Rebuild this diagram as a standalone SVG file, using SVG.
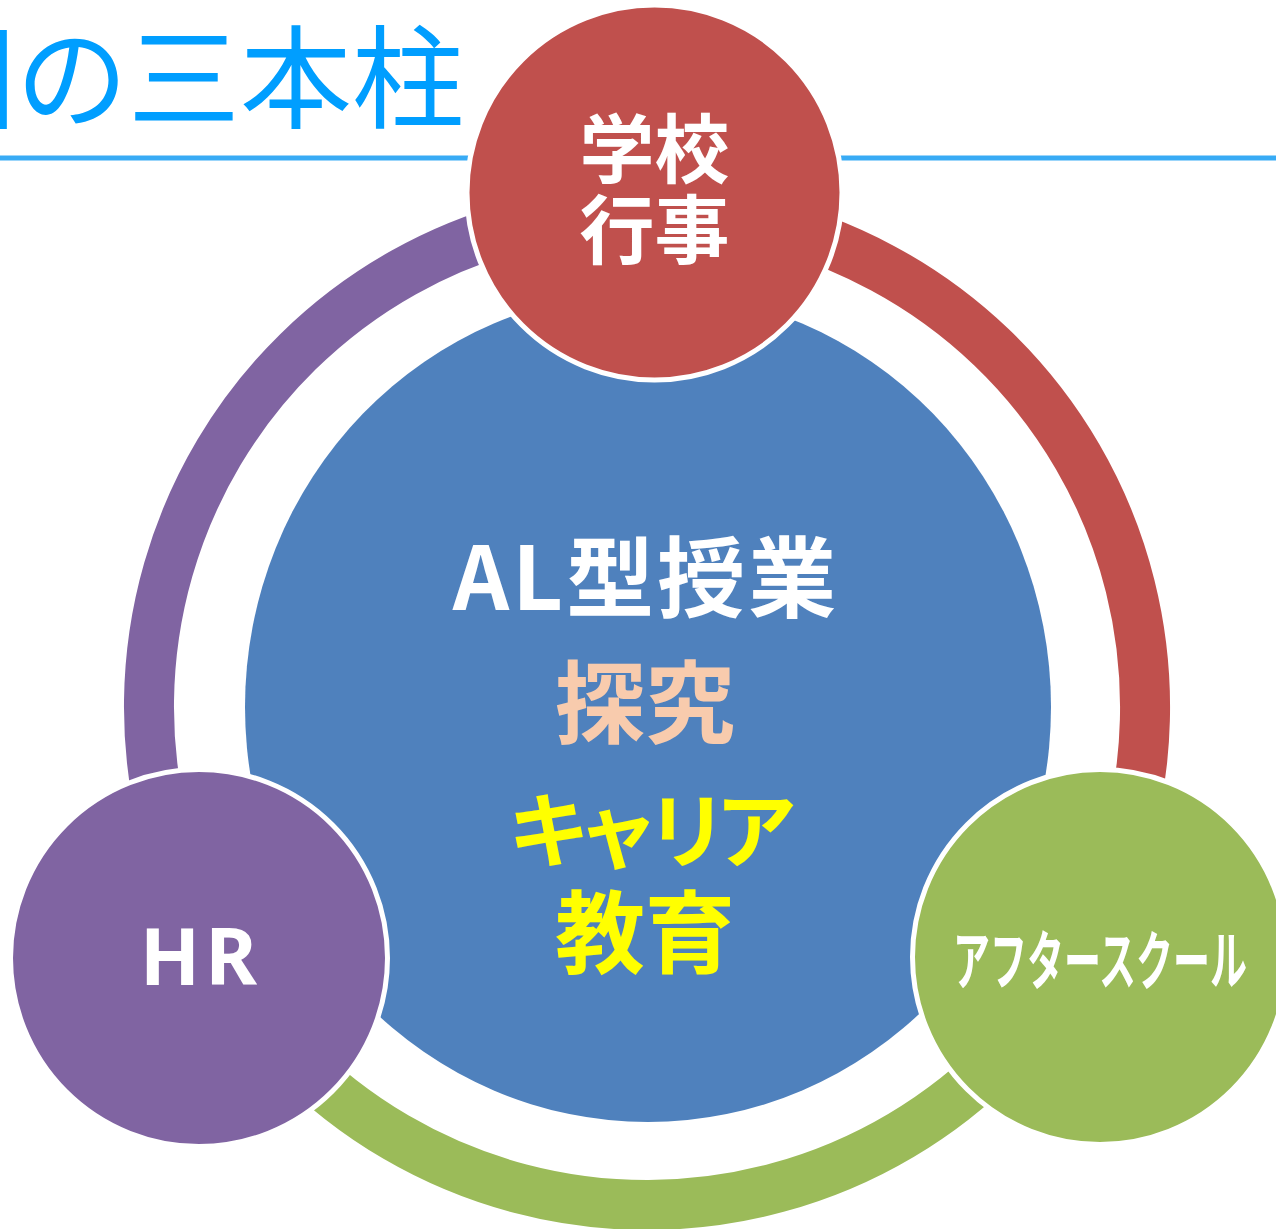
<svg xmlns="http://www.w3.org/2000/svg" width="1276" height="1229" viewBox="0 0 1276 1229">
  <defs>
    <style>
      .arc { fill: none; stroke-width: 50; stroke-linecap: butt; }
      .node { stroke: #FFFFFF; stroke-width: 5; }
      .jp { font-family: "Noto Sans CJK JP", "Noto Sans", sans-serif; font-weight: 700; text-anchor: middle; }
    </style>
  </defs>
  <rect x="0" y="0" width="1276" height="1229" fill="#FFFFFF"/>

  <g id="title">
    <line x1="0" y1="158" x2="1276" y2="158" stroke="#38ABF5" stroke-width="5"/>
    <text x="464" y="120" font-family="'Noto Sans CJK JP', sans-serif" font-weight="400" font-size="112" fill="#009EFF" text-anchor="end">学園の三本柱</text>
  </g>

  <g id="connectors">
    <path class="arc" stroke="#8064A2" d="M 654 209 A 498 498 0 0 0 212.7 950.7"/>
    <path class="arc" stroke="#C0504D" d="M 654 209 A 498 498 0 0 1 1083 947.7"/>
    <path class="arc" stroke="#9BBB59" d="M 1083 947.7 A 498 498 0 0 1 212.7 950.7"/>
  </g>

  <g id="node-center">
    <ellipse cx="648" cy="707" rx="403" ry="415" fill="#4F81BD"/>
    <text class="jp" x="646" y="610" font-size="88" fill="#FFFFFF" letter-spacing="3">AL型授業</text>
    <text class="jp" x="645" y="736" font-size="90" fill="#F8CBAD">探究</text>
    <text class="jp" x="646" y="861" font-size="82" fill="#FFFF00" letter-spacing="-13">キャリア</text>
    <text class="jp" x="645" y="966" font-size="90" fill="#FFFF00">教育</text>
  </g>

  <g id="node-school-events">
    <circle class="node" cx="654.5" cy="192.5" r="187.5" fill="#C0504D"/>
    <text class="jp" x="654.5" y="177" font-size="75" fill="#FFFFFF">学校</text>
    <text class="jp" x="654.5" y="258" font-size="75" fill="#FFFFFF">行事</text>
  </g>

  <g id="node-hr">
    <circle class="node" cx="199" cy="958" r="188.5" fill="#8064A2"/>
    <text x="201" y="985" font-family="'Noto Sans', 'Open Sans', sans-serif" font-weight="700" font-size="79" fill="#FFFFFF" text-anchor="middle" letter-spacing="5">HR</text>
  </g>

  <g id="node-after-school">
    <circle class="node" cx="1100" cy="957" r="187.5" fill="#9BBB59"/>
    <text class="jp" x="1100" y="984" font-size="64" fill="#FFFFFF" textLength="294" lengthAdjust="spacingAndGlyphs">アフタースクール</text>
  </g>
</svg>
